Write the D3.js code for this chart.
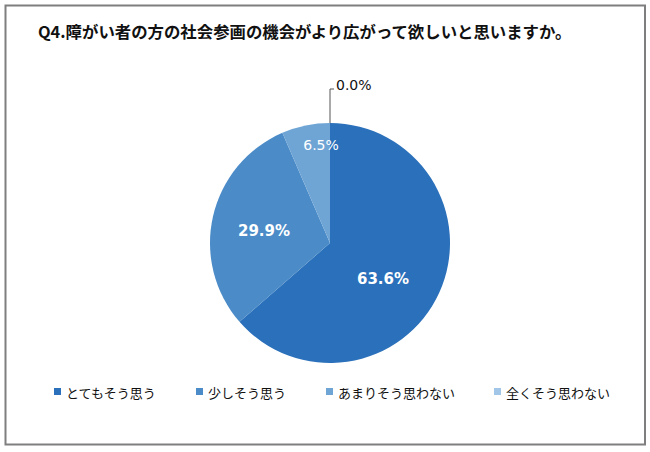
<!DOCTYPE html>
<html><head><meta charset="utf-8">
<script src="https://cdn.jsdelivr.net/npm/d3@7"></script>
<style>body{margin:0;background:#fff}svg{display:block}.jp{font-family:"Noto Sans CJK JP","DejaVu Sans",sans-serif}.num{font-family:"DejaVu Sans",sans-serif}</style>
</head><body>
<script>
const title = "Q4.障がい者の方の社会参画の機会がより広がって欲しいと思いますか。";
const categories = ["とてもそう思う","少しそう思う","あまりそう思わない","全くそう思わない"];
const values = [63.6, 29.9, 6.5, 0.0];
const colors = ["#2A70BA","#4A8BC8","#6FA5D5","#A2C6E8"];
const legendX = [54, 196, 326, 494];

const W=650,H=452;
const svg=d3.select("body").append("svg").attr("width",W).attr("height",H);
svg.append("rect").attr("x",5.5).attr("y",5.5).attr("width",639.5).attr("height",439).attr("fill","#fff").attr("stroke","#7f7f7f").attr("stroke-width",2);
svg.append("text").attr("class","jp").attr("x",38).attr("y",38).attr("font-size",16.4).attr("font-weight","bold").attr("fill","#111").text(title);

const cx=330, cy=243, r=120;
const pie=d3.pie().sort(null).value(d=>d)(values);
const arc=d3.arc().innerRadius(0).outerRadius(r);
const g=svg.append("g").attr("transform",`translate(${cx},${cy})`);
g.selectAll("path").data(pie).join("path").attr("d",arc).attr("fill",(d,i)=>colors[i]);

const labelPos=[[53,36],[-66,-12],[-9,-98]];
const labelStyle=[{s:15,w:"bold"},{s:15,w:"bold"},{s:14,w:"normal"}];
pie.forEach((d,i)=>{
  if(i<3){
    g.append("text").attr("class","num").attr("x",labelPos[i][0]).attr("y",labelPos[i][1]).attr("text-anchor","middle").attr("dominant-baseline","central")
     .attr("font-size",labelStyle[i].s).attr("font-weight",labelStyle[i].w).attr("fill","#fff").text(values[i].toFixed(1)+"%");
  }
});
const z=pie[3];
const zp=d3.pointRadial(z.startAngle, r);
g.append("path").attr("d",`M${zp[0]},${zp[1]}V${-r-34}H${zp[0]+4}`).attr("fill","none").attr("stroke","#555").attr("stroke-width",1);
g.append("text").attr("class","num").attr("x",zp[0]+6).attr("y",-r-38).attr("dominant-baseline","central").attr("font-size",14).attr("fill","#111").text(values[3].toFixed(1)+"%");

const lg=svg.append("g");
categories.forEach((c,i)=>{
  lg.append("rect").attr("x",legendX[i]).attr("y",388).attr("width",7).attr("height",7).attr("fill",colors[i]);
  lg.append("text").attr("class","jp").attr("x",legendX[i]+12).attr("y",392).attr("dominant-baseline","central").attr("font-size",13).attr("fill","#111").text(c);
});
</script>
</body></html>
